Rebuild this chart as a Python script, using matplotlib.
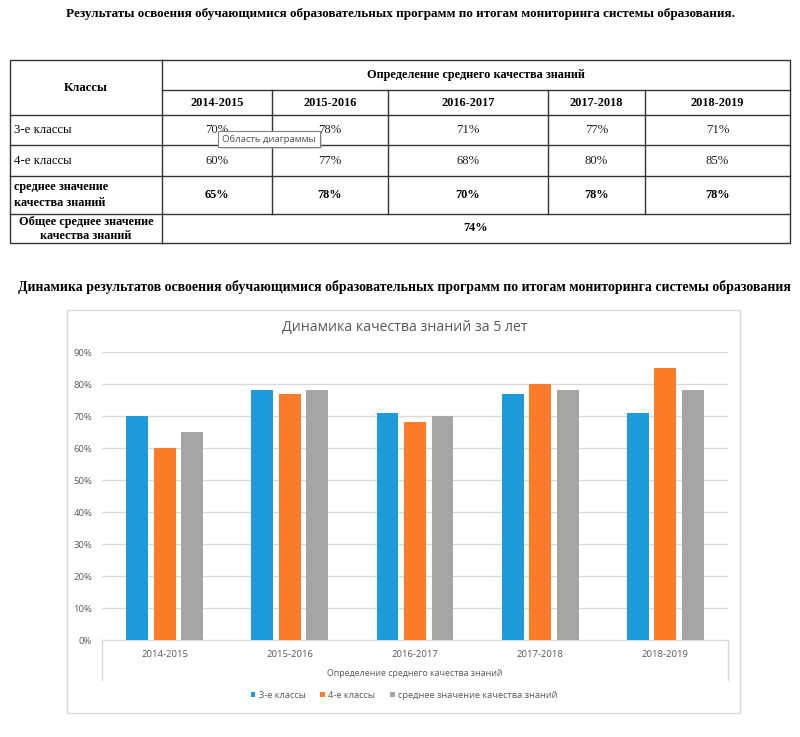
import matplotlib
matplotlib.use("Agg")
import matplotlib.pyplot as plt
from matplotlib.patches import Rectangle
import numpy as np

# ---- data ----
years = ["2014-2015", "2015-2016", "2016-2017", "2017-2018", "2018-2019"]
class3 = [70, 78, 71, 77, 71]
class4 = [60, 77, 68, 80, 85]
avg_quality = [65, 78, 70, 78, 78]
overall_avg = 74
series_names = ["3-е классы", "4-е классы", "среднее значение качества знаний"]
row_labels = ["3-е классы", "4-е классы", "среднее значение\nкачества знаний"]
y_ticks = [0, 10, 20, 30, 40, 50, 60, 70, 80, 90]

W, H = 800, 737
fig = plt.figure(figsize=(W / 100, H / 100), dpi=100)
fig.patch.set_facecolor("white")
bg = fig.add_axes([0, 0, 1, 1])
bg.set_xlim(0, W)
bg.set_ylim(H, 0)
bg.axis("off")

SERIF = ["Liberation Serif", "DejaVu Serif"]
SANS = ["Open Sans", "DejaVu Sans"]
renderer = fig.canvas.get_renderer()


def fit_text(x, y, s, width, **kw):
    t = bg.text(x, y, s, ha="center", va="center", fontsize=10, **kw)
    w = t.get_window_extent(renderer=renderer).width
    t.set_fontsize(10 * width / w)
    return t


# titles
fit_text(400, 14, "Результаты освоения обучающимися образовательных программ по итогам мониторинга системы образования.",
         670, family=SERIF, fontweight="bold", color="black")
fit_text(404, 287, "Динамика результатов освоения обучающимися образовательных программ по итогам мониторинга системы образования",
         772, family=SERIF, fontweight="bold", color="black")

# ---- table ----
lc = "#333333"
lw = 1.0
x0, x1 = 10, 790
col_x = [162, 272, 388, 548, 645, 790]
ys = [60, 90, 115, 145, 176, 214, 243]
bg.add_patch(Rectangle((x0, ys[0]), x1 - x0, ys[-1] - ys[0], fill=False, ec=lc, lw=lw))
bg.plot([col_x[0], col_x[0]], [ys[0], ys[-1]], color=lc, lw=lw)
bg.plot([col_x[0], x1], [ys[1], ys[1]], color=lc, lw=lw)
for yy in ys[2:6]:
    bg.plot([x0, x1], [yy, yy], color=lc, lw=lw)
for xx in col_x[1:5]:
    bg.plot([xx, xx], [ys[1], ys[5]], color=lc, lw=lw)

tfs = 9.2
bfs = 8.8
bg.text(86, 88, "Классы", family=SERIF, fontweight="bold", fontsize=bfs + 0.4, ha="center", va="center")
bg.text(476, 75, "Определение среднего качества знаний", family=SERIF, fontweight="bold", fontsize=bfs,
        ha="center", va="center")
centers = [(col_x[i] + col_x[i + 1]) / 2 for i in range(5)]
for cx, yr in zip(centers, years):
    bg.text(cx, 103, yr, family=SERIF, fontweight="bold", fontsize=bfs, ha="center", va="center")

rows = [class3, class4, avg_quality]
row_y = [130, 161, 195]
for r, (lab, vals, ry) in enumerate(zip(row_labels, rows, row_y)):
    bold = "bold" if r == 2 else "normal"
    fs = bfs if r == 2 else tfs
    bg.text(14, ry, lab, family=SERIF, fontweight=bold, fontsize=fs, ha="left", va="center",
            linespacing=1.45)
    for cx, v in zip(centers, vals):
        bg.text(cx, ry, f"{v}%", family=SERIF, fontweight=bold, fontsize=fs, ha="center", va="center",
                color="#222222" if r < 2 else "black")
bg.text(86, 229, "Общее среднее значение\nкачества знаний", family=SERIF, fontweight="bold", fontsize=bfs,
        ha="center", va="center", linespacing=1.3)
bg.text(476, 228, f"{overall_avg}%", family=SERIF, fontweight="bold", fontsize=bfs, ha="center", va="center")

# tooltip
bg.add_patch(Rectangle((220, 133), 102, 16, fc="#b0b0b0", ec="none", alpha=0.5, zorder=9))
bg.add_patch(Rectangle((218, 131), 102, 16, fc="white", ec="#808080", lw=0.8, zorder=10))
bg.text(269, 139, "Область диаграммы", family=SANS, fontsize=6.8, color="#505050",
        ha="center", va="center", zorder=11)

# ---- chart frame ----
bg.add_patch(Rectangle((67, 310), 673, 403, fill=False, ec="#d9d9d9", lw=1.0))
fit_text(405, 327, "Динамика качества знаний за 5 лет", 244, family=SANS, color="#595959")
px0, px1, py0, py1 = 102, 728, 352, 640
gc = "#d9d9d9"
bg.plot([px0, px0], [py1, 680], color=gc, lw=1)
bg.plot([px1, px1], [py1, 680], color=gc, lw=1)
fit_text((px0 + px1) / 2, 673, "Определение среднего качества знаний", 176, family=SANS, color="#595959")

ax = fig.add_axes([px0 / W, 1 - py1 / H, (px1 - px0) / W, (py1 - py0) / H])
ax.set_facecolor("none")
x = np.arange(len(years))
bw = 0.175
off = 0.22
colors = ["#1E9BDB", "#FD7C2A", "#A5A5A5"]
data = [class3, class4, avg_quality]
handles = []
for i, (vals, c, name) in enumerate(zip(data, colors, series_names)):
    b = ax.bar(x + (i - 1) * off, np.array(vals) / 100, bw, color=c, label=name, zorder=3)
    handles.append(b)
ax.set_xlim(-0.5, len(years) - 0.5)
ax.set_ylim(0, 0.9)
ax.set_yticks([t / 100 for t in y_ticks])
ax.set_yticklabels([f"{t}%" for t in y_ticks])
ax.yaxis.grid(True, color=gc, lw=1, zorder=0)
ax.set_xticks(x)
ax.set_xticklabels(years)
for s in ["top", "right", "left"]:
    ax.spines[s].set_visible(False)
ax.spines["bottom"].set_color(gc)
ax.tick_params(axis="both", length=0, labelsize=6.8, labelcolor="#595959")
ax.tick_params(axis="y", pad=7)
ax.tick_params(axis="x", pad=7)
for lab in ax.get_xticklabels() + ax.get_yticklabels():
    lab.set_family(SANS)

leg = fig.legend(handles=handles, labels=series_names, loc="center", bbox_to_anchor=(404 / W, 1 - 695 / H),
                 ncol=3, frameon=False, handlelength=0.5, handleheight=0.5, handletextpad=0.35,
                 columnspacing=1.6, prop={"family": SANS, "size": 6.7})
for t in leg.get_texts():
    t.set_color("#595959")

fig.savefig("out.png", dpi=100, facecolor="white")
